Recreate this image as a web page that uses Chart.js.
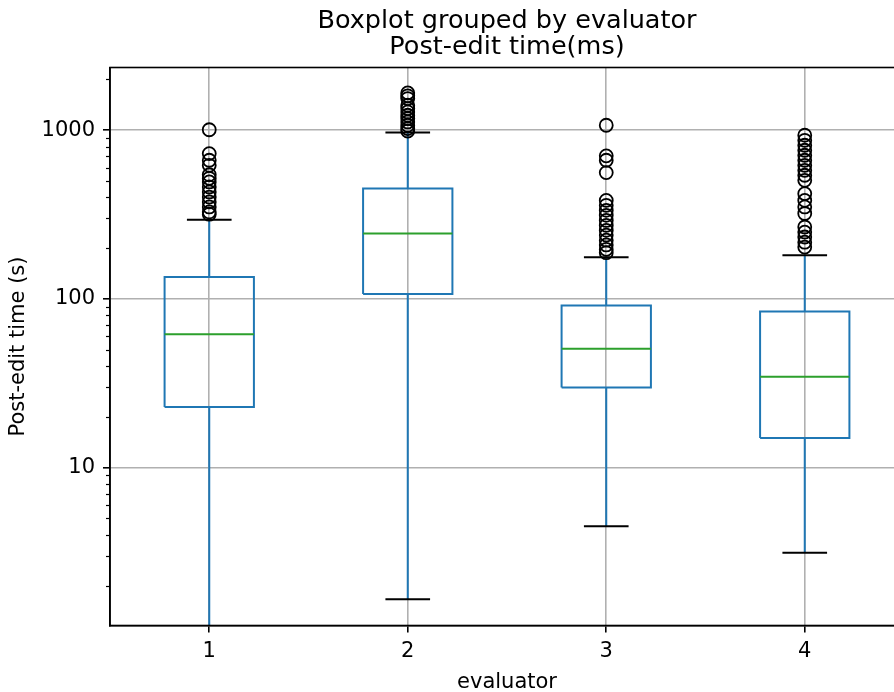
<!DOCTYPE html>
<html><head><meta charset="utf-8">
<script src="https://cdn.jsdelivr.net/npm/chart.js@4.4.1/dist/chart.umd.min.js"></script>
<style>
html,body{margin:0;padding:0;background:#fff;overflow:hidden;}
#clip{width:894px;height:692px;overflow:hidden;position:relative;}
#wrap{width:914px;height:692px;position:relative;}
</style></head><body>
<div id="clip"><div id="wrap"><canvas id="c"></canvas></div></div>
<script>
// ---- data ----
const categories = ['1', '2', '3', '4'];
const whiskerLow  = [1.0, 1.66, 4.49, 3.13];
const q1          = [22.9, 107, 29.9, 15.0];
const median      = [61.7, 244, 50.7, 34.6];
const q3          = [135, 451, 91.6, 84.4];
const whiskerHigh = [295, 969, 177, 181.5];
const outliers1 = [1007, 727, 664, 620, 545, 519, 494, 461, 431, 402, 376, 351, 328, 318];
const outliers2 = [1665, 1600, 1542, 1407, 1345, 1284, 1227, 1173, 1120, 1071, 1023, 990];
const outliers3 = [1071, 705, 664, 561, 384, 359, 335, 313, 292, 273, 255, 239, 223, 209, 197, 188];
const outliers4 = [934, 872, 815, 761, 711, 664, 620, 579, 541, 505, 421, 384, 351, 321, 267, 249, 233, 217, 203];
const outliers = [outliers1, outliers2, outliers3, outliers4];
const yMajorTicks = [10, 100, 1000];
const yMinorMultipliers = [2, 3, 4, 5, 6, 7, 8, 9];
const yDecades = [1, 10, 100, 1000];
const yRange = [1.16, 2355];

// ---- styles ----
const FONT = 'DejaVu Sans';
const HALF = 0.225, CAP = 0.1125;
const BLUE = '#1f77b4', GREEN = '#2ca02c', GRID = '#b0b0b0';

// ---- build series from data ----
const positions = categories.map((c, i) => i + 1);
const boxPts = [], whiskPts = [], capPts = [], medPts = [], outPts = [];
positions.forEach((p, i) => {
  const l = p - HALF, r = p + HALF;
  boxPts.push({x:l,y:q1[i]},{x:r,y:q1[i]},{x:r,y:q3[i]},{x:l,y:q3[i]},{x:l,y:q1[i]},{x:p,y:null});
  whiskPts.push({x:p,y:q1[i]},{x:p,y:whiskerLow[i]},{x:p,y:null},{x:p,y:q3[i]},{x:p,y:whiskerHigh[i]},{x:p,y:null});
  capPts.push({x:p-CAP,y:whiskerLow[i]},{x:p+CAP,y:whiskerLow[i]},{x:p,y:null},{x:p-CAP,y:whiskerHigh[i]},{x:p+CAP,y:whiskerHigh[i]},{x:p,y:null});
  medPts.push({x:l,y:median[i]},{x:r,y:median[i]},{x:p,y:null});
  outliers[i].forEach(v => outPts.push({x:p,y:v}));
});

const lineDs = (data, color) => ({
  type:'scatter', data, showLine:true, spanGaps:false, borderColor:color, borderWidth:2,
  pointRadius:0, pointHoverRadius:0, tension:0, borderJoinStyle:'miter', borderCapStyle:'butt', fill:false
});

const framePlugin = {
  id:'frame',
  afterDraw(chart) {
    const {ctx, chartArea:a, scales:{y}} = chart;
    ctx.save();
    ctx.strokeStyle = '#000'; ctx.lineWidth = 1.6;
    ctx.strokeRect(a.left, a.top, a.right - a.left, a.bottom - a.top);
    // minor log ticks
    ctx.lineWidth = 1.2;
    yDecades.forEach(d => yMinorMultipliers.forEach(m => {
      const v = d * m;
      if (v < yRange[0] || v > yRange[1]) return;
      const py = Math.round(y.getPixelForValue(v)) + 0.5;
      ctx.beginPath(); ctx.moveTo(a.left - 4, py); ctx.lineTo(a.left, py); ctx.stroke();
    }));
    ctx.restore();
  }
};

new Chart(document.getElementById('c'), {
  type:'scatter',
  data:{ datasets:[
    { type:'scatter', data:outPts, pointRadius:6.5, pointHoverRadius:6.5, borderWidth:1.8,
      borderColor:'#000', backgroundColor:'rgba(0,0,0,0)', pointStyle:'circle', showLine:false },
    lineDs(medPts, GREEN),
    lineDs(capPts, '#000'),
    lineDs(whiskPts, BLUE),
    lineDs(boxPts, BLUE)
  ]},
  options:{
    responsive:true, maintainAspectRatio:false, animation:false, devicePixelRatio:1,
    layout:{ padding:{left:0, right:10, top:0, bottom:0} },
    plugins:{
      legend:{display:false}, tooltip:{enabled:false},
      title:{ display:true, text:'Boxplot grouped by evaluator', color:'#000', fullSize:false,
        font:{family:FONT, size:25.5, weight:'normal', lineHeight:1}, padding:{top:9, bottom:0} },
      subtitle:{ display:true, text:'Post-edit time(ms)', color:'#000', fullSize:false,
        font:{family:FONT, size:25.5, weight:'normal', lineHeight:1}, padding:{top:0, bottom:7.5} }
    },
    scales:{
      x:{ type:'linear', min:0.5, max:4.5,
        afterBuildTicks:s => { s.ticks = positions.map(v => ({value:v})); },
        afterFit:s => { s.height = 66.5; },
        ticks:{ callback:v => categories[v - 1], color:'#000', font:{family:FONT, size:21}, padding:6, maxRotation:0, autoSkip:false },
        grid:{ color:GRID, lineWidth:1.6, tickLength:7, tickColor:'#000', tickWidth:1.6 },
        border:{ color:'#000', width:1.6 },
        title:{ display:true, text:'evaluator', color:'#000', font:{family:FONT, size:21, lineHeight:1}, padding:{top:0, bottom:-1.5} }
      },
      y:{ type:'logarithmic', min:yRange[0], max:yRange[1],
        afterBuildTicks:s => { s.ticks = yMajorTicks.map(v => ({value:v})); },
        afterFit:s => { s.width = 110; },
        ticks:{ callback:v => String(v), color:'#000', font:{family:FONT, size:21}, padding:8, autoSkip:false },
        grid:{ color:GRID, lineWidth:1.6, tickLength:7, tickColor:'#000', tickWidth:1.6 },
        border:{ color:'#000', width:1.6 },
        title:{ display:true, text:'Post-edit time (s)', color:'#000', font:{family:FONT, size:21, lineHeight:1}, padding:{top:8, bottom:0} }
      }
    }
  },
  plugins:[framePlugin]
});
</script>
</body></html>
